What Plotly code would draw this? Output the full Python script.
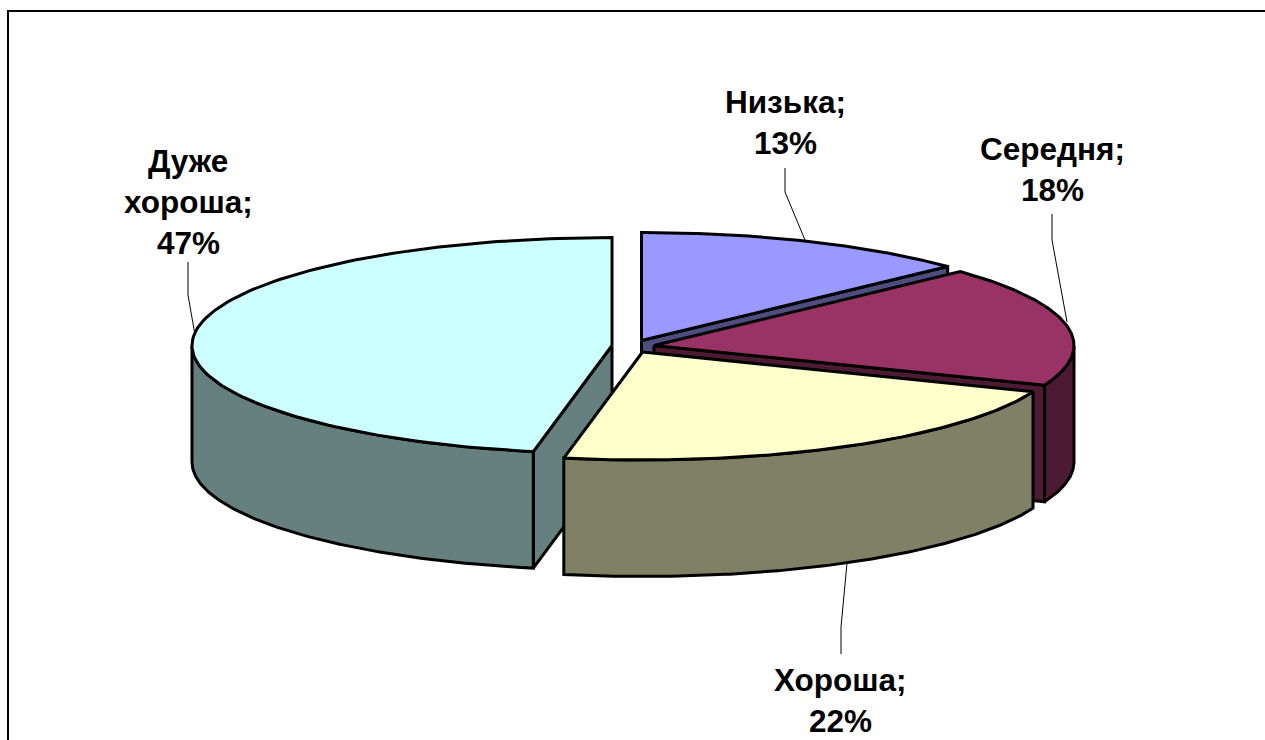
import numpy as np
import plotly.graph_objects as go

categories = ["Низька", "Середня", "Хороша", "Дуже хороша"]
values = [13, 18, 22, 47]
top_colors = ["#9999FF", "#993366", "#FFFFCC", "#CCFFFF"]
side_colors = ["#4D4D80", "#4D1A33", "#808066", "#668080"]

# projection of the exploded pie
apex_x = [641.5, 654, 642.5, 612]
apex_y = [340.5, 345.5, 352, 345.5]
RX, RY, DEPTH = 420, 108, 116.5
LW = 3

label_lines = [["Низька;"], ["Середня;"], ["Хороша;"], ["Дуже", "хороша;"]]
label_x = [785, 1052, 840, 188]
label_first_y = [102, 149, 680, 161]
LINE_STEP = 41
leader_x = [[805, 785, 785], [1067, 1052, 1052], [847, 841, 841], [195, 188, 188]]
leader_y = [[240, 192, 168], [322, 240, 214], [563, 627, 654], [335, 295, 262]]

fig = go.Figure()


def poly(xs, ys, color):
    fig.add_trace(go.Scatter(
        x=xs, y=ys, mode="lines", fill="toself", fillcolor=color,
        line=dict(color="#000000", width=LW), hoverinfo="skip", showlegend=False))


def rim(ax, ay, a, b, drop=0):
    t = np.radians(np.linspace(a, b, 140))
    return ax + RX * np.sin(t), ay - RY * np.cos(t) + drop


edges = np.concatenate([[0], np.cumsum(values)]) * 3.6
for idx in [3, 0, 1, 2]:
    a, b = edges[idx], edges[idx + 1]
    ax, ay = apex_x[idx], apex_y[idx]
    side = side_colors[idx]
    # radial cut faces that look towards the viewer
    for ang, sign in ((a, -1), (b, 1)):
        if sign * np.sin(np.radians(ang)) > 1e-6:
            ex, ey = rim(ax, ay, ang, ang + 1e-6)
            poly([ax, ex[0], ex[0], ax, ax],
                 [ay, ey[0], ey[0] + DEPTH, ay + DEPTH, ay], side)
    # outer wall on the front half
    lo, hi = max(a, 90), min(b, 270)
    if hi > lo:
        x1, y1 = rim(ax, ay, lo, hi)
        x2, y2 = rim(ax, ay, hi, lo, DEPTH)
        poly(np.r_[x1, x2, x1[0]], np.r_[y1, y2, y1[0]], side)
    # top face
    xt, yt = rim(ax, ay, a, b)
    poly(np.r_[ax, xt, ax], np.r_[ay, yt, ay], top_colors[idx])

# leader lines
for lx, ly in zip(leader_x, leader_y):
    fig.add_trace(go.Scatter(x=lx, y=ly, mode="lines", hoverinfo="skip", showlegend=False,
                             line=dict(color="#000000", width=1)))

# labels
for i, lines in enumerate(label_lines):
    rows = lines + [f"{values[i]}%"]
    for j, row in enumerate(rows):
        fig.add_annotation(x=label_x[i], y=label_first_y[i] + j * LINE_STEP, text=f"<b>{row}</b>",
                           showarrow=False, xanchor="center", yanchor="middle",
                           font=dict(family="Liberation Sans", size=31.5, color="#000000"))

fig.update_layout(
    width=1265, height=740, margin=dict(l=0, r=0, t=0, b=0),
    paper_bgcolor="#FFFFFF", plot_bgcolor="#FFFFFF", showlegend=False,
    xaxis=dict(range=[0, 1265], visible=False, fixedrange=True),
    yaxis=dict(range=[740, 0], visible=False, fixedrange=True),
    shapes=[
        dict(type="line", xref="paper", yref="paper", x0=7 / 1265, x1=1, y0=1 - 11 / 740, y1=1 - 11 / 740,
             line=dict(color="#000000", width=2)),
        dict(type="line", xref="paper", yref="paper", x0=8 / 1265, x1=8 / 1265, y0=0, y1=1 - 11 / 740,
             line=dict(color="#000000", width=2)),
    ],
)
fig.write_html("out.html", config={"displayModeBar": False},
               post_script="document.body.style.margin='0';")
